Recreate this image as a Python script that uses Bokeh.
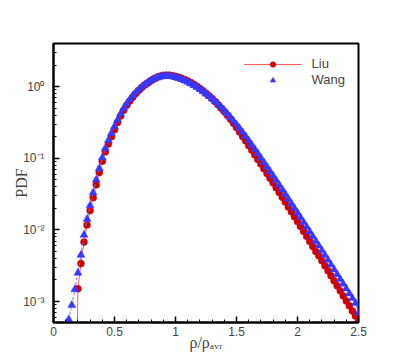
from bokeh.plotting import figure
from bokeh.models import (Range1d, SingleIntervalTicker, LogTicker,
                          CustomJSTickFormatter, Legend, LegendItem)
from bokeh.embed import file_html
from bokeh.resources import INLINE

nan = float("nan")

# density ratio grid
rho = [0.125, 0.15, 0.175, 0.2, 0.225, 0.25, 0.275, 0.3, 0.325, 0.35, 0.375, 0.4,
       0.425, 0.45, 0.475, 0.5, 0.525, 0.55, 0.575, 0.6, 0.625, 0.65, 0.675, 0.7,
       0.725, 0.75, 0.775, 0.8, 0.825, 0.85, 0.875, 0.9, 0.925, 0.95, 0.975, 1.0,
       1.025, 1.05, 1.075, 1.1, 1.125, 1.15, 1.175, 1.2, 1.225, 1.25, 1.275, 1.3,
       1.325, 1.35, 1.375, 1.4, 1.425, 1.45, 1.475, 1.5, 1.525, 1.55, 1.575, 1.6,
       1.625, 1.65, 1.675, 1.7, 1.725, 1.75, 1.775, 1.8, 1.825, 1.85, 1.875, 1.9,
       1.925, 1.95, 1.975, 2.0, 2.025, 2.05, 2.075, 2.1, 2.125, 2.15, 2.175, 2.2,
       2.225, 2.25, 2.275, 2.3, 2.325, 2.35, 2.375, 2.4, 2.425, 2.45, 2.475, 2.5]

liu_pdf = [nan, nan, 1e-6, 0.00151, 0.00339, 0.00676, 0.01175, 0.01862, 0.02818, 0.04266,
           0.0631, 0.0912, 0.123, 0.158, 0.1995, 0.251, 0.316, 0.389, 0.468, 0.550,
           0.631, 0.716, 0.804, 0.891, 0.977, 1.059, 1.135, 1.216, 1.288, 1.349,
           1.396, 1.429, 1.445, 1.439, 1.419, 1.390, 1.352, 1.306, 1.253, 1.199,
           1.138, 1.076, 1.012, 0.944, 0.877, 0.811, 0.745, 0.681, 0.618, 0.558,
           0.501, 0.448, 0.398, 0.352, 0.308, 0.269, 0.233, 0.202, 0.175, 0.151,
           0.130, 0.112, 0.0964, 0.0830, 0.0714, 0.0615, 0.0528, 0.0454, 0.0389, 0.0333,
           0.0286, 0.0245, 0.0209, 0.0179, 0.0153, 0.0131, 0.0112, 0.00955, 0.00813, 0.00692,
           0.00589, 0.00501, 0.00437, 0.00372, 0.00316, 0.00269, 0.00229, 0.00195, 0.00166, 0.00141,
           0.00120, 0.00102, 0.000871, 0.000741, 0.000631, 0.000537]

wang_pdf = [0.000562, 0.000891, 0.00148, 0.00251, 0.00447, 0.00851, 0.0141, 0.0219, 0.0331, 0.0501,
            0.0724, 0.102, 0.138, 0.178, 0.224, 0.279, 0.343, 0.417, 0.495, 0.575,
            0.661, 0.750, 0.832, 0.912, 0.995, 1.072, 1.148, 1.216, 1.279, 1.334,
            1.374, 1.400, 1.406, 1.400, 1.380, 1.349, 1.309, 1.265, 1.213, 1.159,
            1.102, 1.042, 0.982, 0.920, 0.859, 0.798, 0.738, 0.679, 0.622, 0.568,
            0.515, 0.466, 0.419, 0.375, 0.334, 0.296, 0.262, 0.230, 0.202, 0.177,
            0.154, 0.134, 0.117, 0.101, 0.0877, 0.0759, 0.0656, 0.0568, 0.0490, 0.0423,
            0.0365, 0.0315, 0.0271, 0.0233, 0.0201, 0.0173, 0.0149, 0.0128, 0.0110, 0.00946,
            0.00813, 0.00698, 0.00600, 0.00515, 0.00443, 0.00380, 0.00326, 0.00279, 0.00239, 0.00205,
            0.00176, 0.00151, 0.00129, 0.00111, 0.000948, 0.00070]

series_names = ["Liu", "Wang"]
x_label = "ρ/ρₐᵥᵣ"
y_label = "PDF"

p = figure(width=400, height=358, y_axis_type="log",
           x_range=Range1d(0, 2.5), y_range=Range1d(5.1e-4, 4.0),
           output_backend="svg", toolbar_location=None,
           min_border_left=53, min_border_right=42,
           min_border_top=43, min_border_bottom=36)

p.background_fill_color = "white"
p.border_fill_color = "white"
p.outline_line_color = "black"
p.outline_line_width = 2
p.xgrid.visible = False
p.ygrid.visible = False

red = "#d00000"
blue = "#3838ff"

liu_line = p.line(rho, liu_pdf, line_color="#ff5a5a", line_width=1)
liu_pts = p.scatter(rho, liu_pdf, marker="circle", size=7, fill_color=red,
                    line_color=red, line_width=0.5)
wang_line = p.line(rho, wang_pdf, line_color="#7070ff", line_width=1, line_dash="3 2")
wang_pts = p.scatter(rho, wang_pdf, marker="triangle", size=8, fill_color=blue,
                     line_color=blue, line_width=0.5)

legend = Legend(items=[LegendItem(label=series_names[0], renderers=[liu_line, liu_pts]),
                       LegendItem(label=series_names[1], renderers=[wang_pts])],
                location="top_right", border_line_alpha=0, background_fill_alpha=0,
                label_text_font="Liberation Sans", label_text_font_size="13px",
                glyph_width=58, glyph_height=14, label_height=14, spacing=1,
                margin=9, padding=4, label_standoff=10)
p.add_layout(legend)

xa = p.xaxis[0]
xa.ticker = SingleIntervalTicker(interval=0.5, num_minor_ticks=5)
ya = p.yaxis[0]
ya.ticker = LogTicker(num_minor_ticks=10)
ya.formatter = CustomJSTickFormatter(code="""
const e = Math.round(Math.log10(tick));
const sup = {"-":"\u207b","0":"\u2070","1":"\u00b9","2":"\u00b2","3":"\u00b3","4":"\u2074",
             "5":"\u2075","6":"\u2076","7":"\u2077","8":"\u2078","9":"\u2079"};
return "10" + String(e).split("").map(c => sup[c]).join("");
""")

for ax in (xa, ya):
    ax.axis_line_width = 2
    ax.axis_line_color = "black"
    ax.major_tick_in = 6
    ax.major_tick_out = 0
    ax.minor_tick_in = 3
    ax.minor_tick_out = 0
    ax.major_tick_line_width = 1.5
    ax.major_label_text_font = "Liberation Sans"
    ax.major_label_text_font_size = "12px"
    ax.axis_label_text_font = "Liberation Serif"
    ax.axis_label_text_font_style = "normal"
    ax.axis_label_text_font_size = "16px"

xa.axis_label = x_label
xa.major_label_standoff = 4
xa.axis_label_standoff = -5
ya.axis_label = y_label
ya.major_label_standoff = 9
ya.axis_label_standoff = -10

open("out.html", "w").write(file_html(p, INLINE))
